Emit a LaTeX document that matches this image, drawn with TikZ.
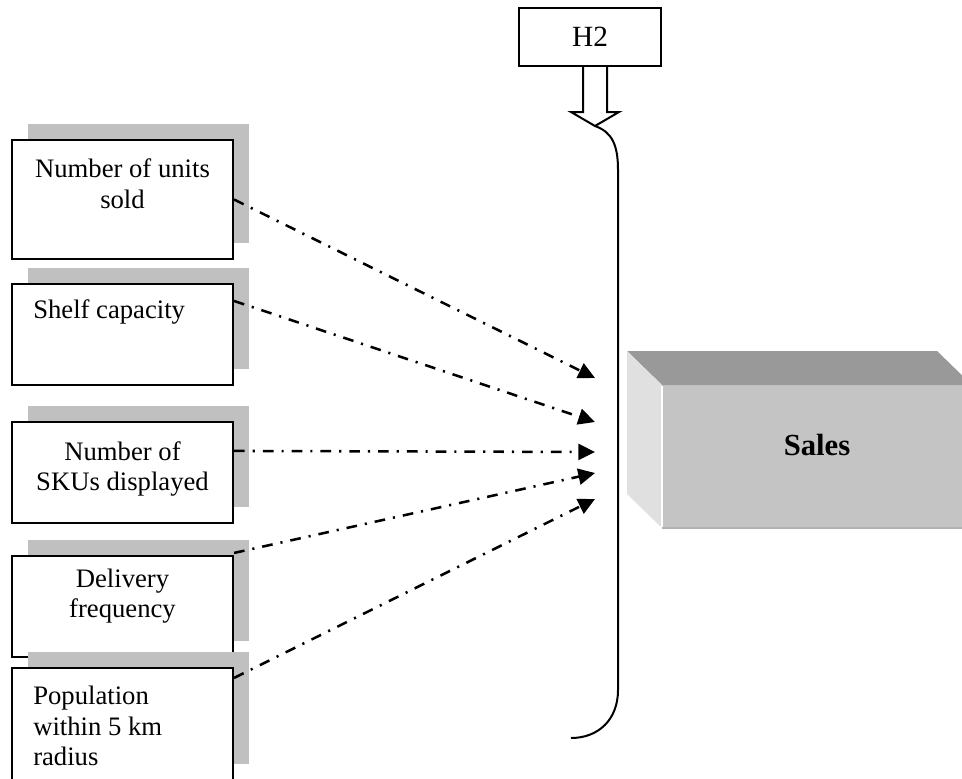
\documentclass[tikz,border=0pt]{standalone}
\usepackage{fontspec}
\setmainfont{Liberation Serif}
\usetikzlibrary{arrows.meta,calc,shadows}

\definecolor{shadowgray}{HTML}{C0C0C0}
\definecolor{frontgray}{HTML}{C4C4C4}
\definecolor{topgray}{HTML}{999999}
\definecolor{sidegray}{HTML}{E0E0E0}
\definecolor{edgegray}{HTML}{B2B2B2}

\begin{document}
\begin{tikzpicture}[x=0.75pt,y=-0.75pt,
  txt/.style={inner sep=0pt, font=\fontsize{20pt}{23pt}\selectfont},
  factor/.style={draw=black, line width=1.6pt, fill=white, inner sep=0pt,
    minimum width=165.75pt,
    general shadow={fill=shadowgray, shadow xshift=12pt, shadow yshift=12pt}},
  flow/.style={line width=1.9pt, dash pattern=on 8pt off 6pt on 1.6pt off 6pt,
    -{Triangle[length=12.5pt,width=12pt]}},
  frame/.style={draw=black, line width=1.5pt}
]
\useasboundingbox (0,0) rectangle (962,778);
\clip (0,0) rectangle (962,778);

% factor boxes with drop shadows
\node[factor, minimum height=89.25pt] (b1) at (122.5,199.5) {};
\node[factor, minimum height=75.75pt] (b2) at (122.5,334.5) {};
\node[factor, minimum height=75.75pt] (b3) at (122.5,472.5) {};
\node[factor, minimum height=75.75pt] (b4) at (122.5,606.5) {};
\node[factor, minimum height=84pt]    (b5) at (122.5,724) {};

\node[txt, align=center] (t1) at (122.5,183.5) {Number of units\\sold};
\node[txt, anchor=west] (t2) at (33,312) {Shelf capacity};
\node[txt, align=center] (t3) at (122.5,469) {Number of\\SKUs displayed};
\node[txt, align=center] (t4) at (122.5,596) {Delivery\\frequency};
\node[txt, align=left, anchor=west] (t5) at (33,726) {Population\\within 5 km\\radius};

% H2 box and its hollow arrow
\node[frame, fill=white, minimum width=106.5pt, minimum height=43.5pt, inner sep=0pt,
  font=\fontsize{22pt}{24pt}\selectfont] (h2) at (590,37) {H2};
\draw[line width=1.5pt, fill=white, line join=miter]
  ($(h2.south)+(-7,0)$) -- (583,112) -- (571,112) -- (595,126) -- (619,112)
  -- (607,112) -- ($(h2.south)+(17,0)$);

% bracket
\draw[line width=1.5pt] (595,126) .. controls (612,132) and (618,145) .. (618,170)
  -- (618,690) .. controls (618,720) and (598,738) .. (571,738);

% Sales block
\fill[frontgray] (662,385) rectangle (972,528);
\fill[topgray] (627,351) -- (937,351) -- (972,385) -- (662,385) -- cycle;
\fill[sidegray] (627,351) -- (662,385) -- (662,528) -- (627,494) -- cycle;
\draw[white, line width=0.8pt] (662,386) -- (662,528);
\draw[edgegray, line width=1pt] (662,528) -- (972,528);
\node[inner sep=0pt, minimum width=232.5pt, minimum height=107.25pt] (sales) at (817,456.5) {};
\node[inner sep=0pt, font=\bfseries\fontsize{23pt}{25pt}\selectfont] (saleslabel) at (817,445) {Sales};

% arrow ends
\coordinate (e1) at (595,378);
\coordinate (e2) at (595,422);
\coordinate (e3) at (595,452);
\coordinate (e4) at (595,473);
\coordinate (e5) at (595,499);

\draw[flow] (b1.east) -- (e1);
\draw[flow] ($(b2.north east)+(0,18)$) -- (e2);
\draw[flow] ($(b3.north east)+(0,30)$) -- (e3);
\draw[flow] ($(b4.north east)+(0,-2)$) -- (e4);
\draw[flow] ($(b5.north east)+(0,11)$) -- (e5);
\end{tikzpicture}
\end{document}
